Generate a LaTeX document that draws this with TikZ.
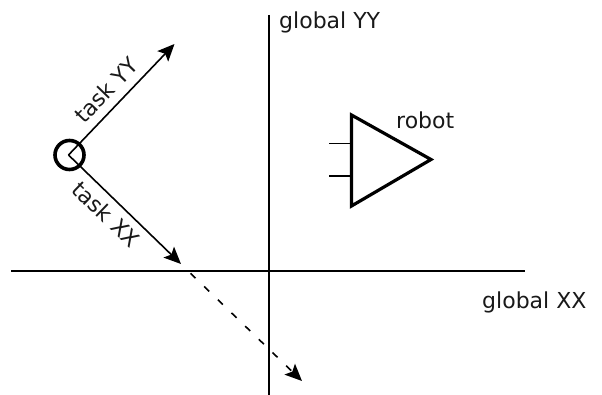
\documentclass[tikz,border=0pt]{standalone}
\usepackage{fontspec}
\setmainfont{DejaVu Sans}
\usetikzlibrary{arrows.meta}
\tikzset{
  thinline/.style={line width=1.6pt,draw=black},
  axisline/.style={line width=2pt,draw=black},
  thickline/.style={line width=3.2pt,draw=black,line join=miter},
  head/.style={-{Stealth[length=17pt,width=15pt,inset=3.5pt]}},
  lbl/.style={font=\fontsize{22pt}{24pt}\selectfont,inner sep=0pt,text=black!90},
}
\begin{document}
\begin{tikzpicture}[x=1pt,y=-1pt]
\useasboundingbox (0,0) rectangle (602,395);
% axes
\coordinate (xw) at (11,271.5);
\coordinate (xe) at (525,271.5);
\coordinate (yn) at (268.5,15);
\coordinate (ys) at (268.5,395);
\draw[axisline] (xw) -- (xe);
\draw[axisline] (yn) -- (ys);
\node[lbl,anchor=west] (gy) at (279,22) {global YY};
\node[lbl,anchor=west] (gx) at (482,302) {global XX};
% task frame
\coordinate (o) at (68.5,155);
\coordinate (ty) at (174.5,44);
\coordinate (tx) at (181,264);
\coordinate (ds) at (190.5,273.3);
\coordinate (td) at (302,381);
\draw[thinline,head] (o) -- (ty);
\draw[thinline,head] (o) -- (tx);
\draw[thinline,head,dash pattern=on 7pt off 12pt] (ds) -- (td);
\node[draw=black,line width=3.6pt,circle,minimum size=29pt,inner sep=0pt] (c) at (69.5,155) {};
\node[lbl,rotate=46] (ly) at (106,90) {task YY};
\node[lbl,rotate=-44] (lx) at (106.5,214.5) {task XX};
% robot
\coordinate (r1) at (351.5,115);
\coordinate (r2) at (431,159.5);
\coordinate (r3) at (351.5,206);
\coordinate (la) at (329,143.5);
\coordinate (lb) at (329,176);
\coordinate (ra) at (351.5,143.5);
\coordinate (rb) at (351.5,176);
\draw[thinline] (la) -- (ra);
\draw[thinline] (lb) -- (rb);
\draw[thickline] (r1) -- (r2) -- (r3) -- cycle;
\node[lbl,anchor=west] (rob) at (396,120) {robot};
\end{tikzpicture}
\end{document}
